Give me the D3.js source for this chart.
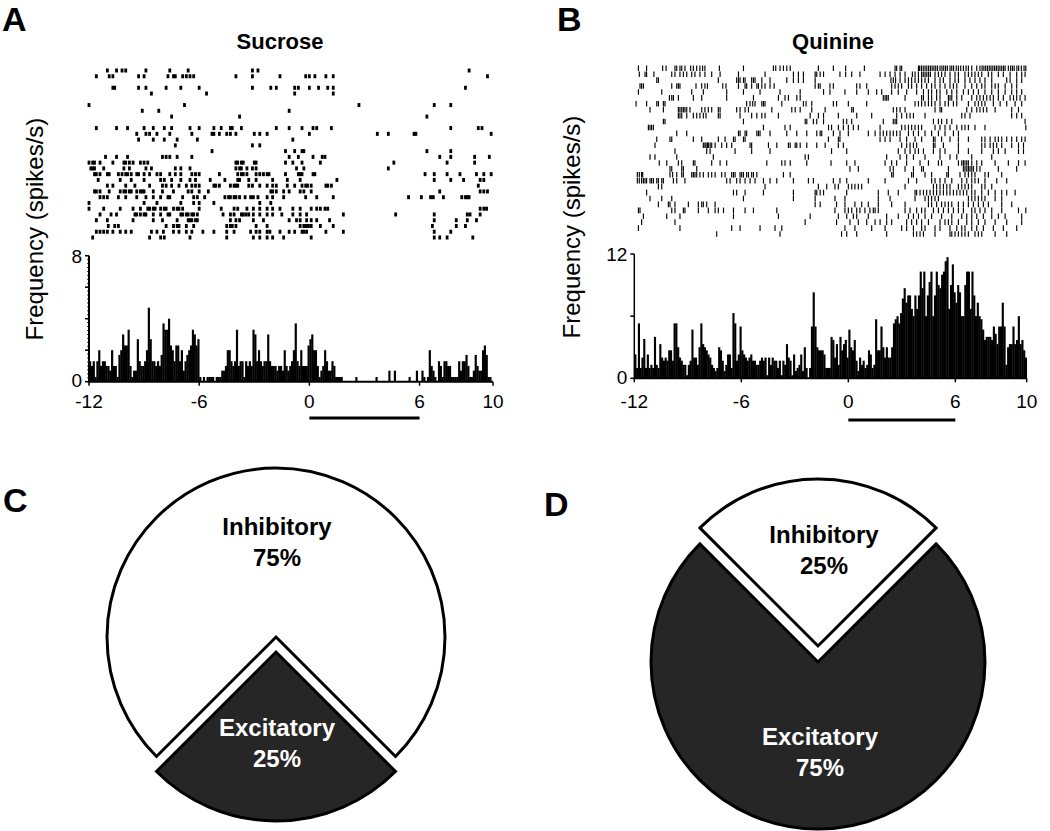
<!DOCTYPE html>
<html><head><meta charset="utf-8">
<script src="https://cdn.jsdelivr.net/npm/d3@7"></script>
<style>body{margin:0;background:#fff}svg{display:block}text{font-family:Arial,"Liberation Sans",Helvetica,sans-serif}</style>
</head><body><svg id="c" width="1050" height="831"></svg>
<script>
// ---------------- DATA ----------------
const histStart = -12, binWidth = 0.1;
const xTickValues = [-12, -6, 0, 6, 10];
const sucroseYTicks = [0, 2, 4, 6, 8];
const sucroseYLabels = [0, 8];
const quinineYTicks = [0, 6, 12];
const quinineYLabels = [0, 12];
const stimulusWindow = [0, 6];

const sucroseRate = [
 1.3,1.0,1.3,0.3,1.3,2.0,1.0,1.3,1.3,1.0,
 1.0,0.7,2.0,1.0,1.0,0.3,1.7,2.0,3.0,2.3,
 2.3,3.3,1.0,0.3,0.7,0.7,2.7,1.3,1.0,1.0,
 1.3,2.0,4.7,2.7,1.3,1.3,1.0,1.3,1.0,1.7,
 3.7,3.3,3.3,4.0,2.3,2.0,1.3,2.3,2.3,1.3,
 2.0,0.7,1.3,1.7,2.0,2.3,3.3,3.0,2.3,2.7,
 0.3,0,0.3,0,0.3,0.3,0.3,0.3,0,0.3,
 0.3,0.3,0.7,0.7,1.0,2.0,2.0,1.3,1.0,1.3,
 3.3,1.0,1.3,1.3,0.3,1.3,1.0,1.3,1.0,3.3,
 3.0,1.3,2.0,1.3,1.0,1.3,1.3,3.0,1.3,1.0,
 1.0,1.0,0.7,1.0,1.0,0.7,2.0,1.0,0.7,1.0,
 1.3,2.0,3.7,1.3,1.0,2.0,1.0,1.0,1.0,2.3,
 2.7,3.0,2.0,2.0,1.0,0.3,0.7,1.0,2.0,1.3,
 0.7,0.7,1.3,1.0,0.3,0.3,0.3,0.3,0,0,
 0,0,0,0,0,0.3,0,0,0,0,
 0,0,0,0,0,0,0.3,0,0,0,
 0,0,0,0.7,0,0,0.7,0,0,0,
 0,0,0,0,0.3,0,0,0,0.7,0,
 0,0.7,0.3,0,0.3,2.0,1.0,0.7,0.3,0,
 1.3,1.0,0.3,1.3,1.3,1.0,1.0,0.3,0.3,0.3,
 0.3,1.3,0.7,1.3,1.3,1.7,1.0,0.3,0.3,0.7,
 1.7,1.0,0.7,0.7,2.0,2.3,1.7,0.3,0.3,0
];

const quinineRate = [
 2.3,1.0,5.3,1.0,2.0,3.8,1.0,2.3,1.0,1.3,
 1.0,4.0,1.3,1.0,3.3,2.0,1.7,2.0,1.7,2.7,
 2.7,1.7,5.3,5.3,3.0,2.0,1.7,1.3,1.3,0.3,
 1.3,1.7,4.7,2.0,2.0,1.3,3.0,5.3,3.3,3.0,
 2.7,2.3,2.0,1.3,1.0,0.7,1.0,3.0,2.7,1.7,
 0.7,1.3,2.3,2.3,1.0,6.3,5.3,1.7,2.3,5.0,
 2.7,2.3,2.0,1.7,2.0,2.3,1.7,1.7,1.3,1.3,
 1.7,2.0,1.7,2.0,0.3,2.0,1.3,2.0,1.7,1.7,
 1.0,1.7,0.3,1.7,1.3,3.3,2.0,1.7,0.3,2.3,
 0.7,1.0,1.3,2.3,0.7,3.0,1.0,0,1.0,5.0,
 8.3,5.0,3.0,2.7,2.7,2.7,2.3,1.0,1.0,1.0,
 4.0,3.7,2.0,3.3,1.3,4.0,2.7,3.3,3.7,2.0,
 4.7,3.0,2.7,3.7,1.7,0.7,2.0,1.3,1.7,1.0,
 1.3,2.7,2.3,1.0,1.3,5.7,2.7,2.7,5.0,3.0,
 2.0,3.0,2.0,2.0,3.0,5.3,5.7,6.0,5.3,6.3,
 7.7,8.7,7.3,8.0,8.0,6.7,6.0,8.0,6.7,8.0,
 10.3,8.7,10.3,6.0,8.0,9.3,10.3,6.0,8.0,10.3,
 9.0,8.7,10.0,10.3,11.3,11.7,6.7,9.0,11.0,8.3,
 7.3,9.0,8.3,6.0,6.0,9.0,10.3,10.3,6.7,10.3,
 8.0,6.0,7.3,6.0,5.7,4.7,3.7,4.0,4.0,4.0,
 3.7,5.0,4.3,3.3,5.0,5.0,7.3,5.0,1.3,3.0,
 3.3,3.3,5.0,3.3,3.7,6.0,3.3,3.7,2.7,2.0
];

// spike times (s) per trial, relative to stimulus onset
const sucroseTrials = [
 [-11.0,-10.5,-10.2,-10.0,-8.9,-7.6,-6.6,-3.1,-2.8,8.7],
 [-11.6,-10.9,-10.7,-9.3,-9.0,-7.7,-7.4,-7.3,-6.9,-6.7,-6.5,-6.3,-4.0,-3.1,-1.6,-0.2,0.0,0.3,0.9,1.3,9.7],
 [],
 [-10.7,-10.6,-9.3,-8.9,-7.8,-7.0,-6.0,-3.1,-2.1,-1.8,-0.8,-0.6,0.0,0.5,1.0,1.3,8.5],
 [-8.6,-5.6,-0.8,1.3],
 [],
 [-12.0,-6.8,2.7,6.8,7.7],
 [-9.1,-8.2,-1.1],
 [-7.5,-3.8,6.4],
 [],
 [-11.6,-10.5,-9.9,-9.0,-8.5,-7.9,-7.5,-6.5,-6.0,-5.2,-4.8,-4.3,-4.2,-3.7,-1.8,-1.1,-0.4,0.2,0.4,1.2,7.7,9.2,9.4],
 [-9.4,-8.9,-8.7,-8.3,-7.6,-6.4,-5.3,-5.2,-4.9,-4.5,-4.3,-4.0,-3.0,-2.7,-2.3,0.0,3.7,4.3,5.7,5.8,9.9],
 [-9.3,-8.5,-7.9,-7.2,-6.1,-0.9],
 [-7.3,-3.1,-2.7],
 [-5.3,-1.3,-0.8,-0.4,-0.3,6.4,7.7],
 [-11.1,-10.5,-9.9,-8.0,-7.8,-7.6,-7.2,-6.4,-1.1,-0.6,0.2,0.7,0.85,7.1,7.7,9.0,9.8],
 [-12.0,-11.8,-11.7,-11.4,-10.7,-10.1,-10.0,-9.8,-9.6,-9.2,-9.0,-8.8,-4.0,-3.9,-3.7,-3.6,-3.0,-2.9,-1.3,-0.9,-0.4,0.6,4.6,7.5,9.0],
 [-11.9,-11.8,-11.7,-11.2,-10.1,-9.8,-8.9,-8.6,-7.3,-7.0,-6.5,-4.0,-3.8,-3.7,-3.4,-3.1,-2.9,-0.7,-0.3,4.3],
 [-11.7,-11.6,-11.4,-11.0,-10.9,-10.4,-10.2,-10.0,-9.9,-9.7,-9.4,-9.3,-9.0,-8.7,-8.3,-8.1,-7.6,-7.3,-7.0,-6.4,-6.2,-6.0,-4.9,-3.9,-3.7,-3.6,-3.4,-2.9,-2.7,-2.5,-2.3,-2.2,-1.3,-0.6,-0.5,-0.4,0.2,0.3,6.3,6.8,7.5,8.2,9.1,9.5,9.9],
 [-11.5,-10.3,-9.7,-9.0,-8.1,-7.9,-7.5,-7.0,-6.5,-6.2,-5.4,-4.6,-3.9,-3.8,-3.3,-2.9,-2.0,-1.2,-0.5,1.5,6.8,7.7,8.4,9.3,9.5],
 [-11.0,-10.7,-10.0,-9.5,-8.7,-8.0,-7.8,-7.5,-7.1,-6.7,-6.4,-6.2,-6.0,-5.2,-5.1,-4.9,-4.3,-4.1,-4.0,-3.9,-3.3,-3.1,-2.7,-2.3,-2.0,-1.8,-1.2,-0.8,-0.4,-0.2,-0.1,0.1,0.9,1.0,1.2,9.2],
 [-11.7,-11.6,-11.4,-10.9,-10.3,-10.1,-10.0,-9.8,-9.7,-9.4,-9.2,-9.1,-9.0,-8.5,-8.0,-7.4,-6.6,-6.4,-6.0,-5.5,-2.1,-2.0,-1.8,-1.4,-1.1,-0.5,-0.3,0.1,7.1,9.3,9.5,9.7],
 [-11.4,-11.2,-11.0,-10.4,-10.0,-9.4,-8.9,-8.5,-8.1,-7.7,-7.6,-6.9,-6.3,-6.1,-5.7,-4.6,-4.4,-4.3,-4.1,-4.0,-3.8,-3.5,-3.2,-3.05,-2.8,-2.3,-2.0,-1.4,-0.2,0.4,1.3,5.4,6.1,6.6,6.75,7.3,8.3,8.5,8.6,8.7],
 [-12.0,-9.0,-8.3,-7.0,-6.3,-6.0,-5.2,-2.7,-2.1],
 [-12.0,-11.2,-10.3,-9.6,-9.2,-8.8,-8.7,-8.5,-8.4,-8.1,-7.9,-7.8,-7.4,-7.2,-7.1,-6.9,-6.0,-4.8,-4.1,-3.9,-3.4,-3.05,-2.7,-2.3,-2.0,-1.6,-0.9,-0.5,0.1,0.4,0.6,0.85,1.0,9.3,9.5,9.65],
 [-11.4,-10.8,-10.5,-9.5,-9.4,-9.2,-9.0,-8.9,-8.5,-8.1,-7.7,-7.6,-7.0,-6.9,-6.7,-6.6,-6.4,-6.3,-6.1,-4.7,-4.3,-4.1,-3.7,-3.6,-3.45,-3.3,-3.05,-2.7,-2.3,-2.0,-1.5,-0.9,-0.5,-0.15,1.85,4.7,6.8,8.6,8.75,9.3],
 [-11.6,-11.0,-9.6,-8.5,-8.0,-7.2,-6.6,-6.5,-6.4,-6.2,-6.1,-4.3,-4.0,-3.8,-3.05,-2.5,-1.1,-0.7,-0.5,-0.15,0.1,0.4,1.1,6.8,8.0,8.6,9.1],
 [-10.95,-10.6,-10.4,-7.8,-7.4,-7.2,-7.1,-6.7,-6.3,-4.5,-4.3,-4.2,-4.0,-2.9,-2.3,-0.5,-0.3,-0.2,-0.05,0.1,0.6,1.3,6.7,8.0,8.5],
 [-11.6,-11.4,-11.2,-11.0,-10.7,-10.3,-10.0,-9.7,-8.6,-8.3,-7.95,-7.4,-7.1,-6.7,-6.4,-5.8,-5.2,-4.5,-4.1,-3.2,-2.9,-2.7,-2.3,-2.15,-1.6,-1.1,-0.8,-0.4,-0.3,-0.15,0.9,1.85,6.8,7.7],
 [-11.8,-8.7,-8.1,-7.9,-6.5,-4.5,-3.05,-2.7,-2.3,-2.0,-1.4,0.1,6.8,7.1,7.5,8.9]
];

const quinineTrials = [
 [-11.77,-11.31,-10.41,-10.22,-9.72,-9.62,-9.44,-9.34,-9.16,-8.84,-8.69,-8.5,-8.32,-8.17,-8.04,-7.23,-5.88,-4.2,-4.07,-3.83,-3.64,-3.45,-3.26,-1.68,-0.84,-0.15,0.9,2.62,2.71,2.9,2.99,3.93,4.0,4.1,4.2,4.3,4.4,4.5,4.6,4.7,4.8,4.9,5.0,5.14,5.25,5.35,5.45,5.55,5.7,5.8,5.9,6.05,6.17,6.3,6.45,6.6,6.73,6.92,7.2,7.38,7.5,7.6,7.7,7.8,7.9,8.0,8.1,8.2,8.3,8.4,8.5,8.6,8.7,8.79,8.97,9.1,9.2,9.3,9.45,9.55,9.7,9.85,9.95],
 [-11.72,-11.4,-11.31,-10.9,-9.9,-9.72,-9.44,-9.25,-9.06,-8.78,-8.6,-8.32,-8.04,-7.66,-7.19,-6.16,-4.67,-3.08,-2.8,-2.52,-1.86,-1.77,-1.58,-1.39,-0.47,-0.15,0.19,0.65,1.78,2.06,2.34,2.62,2.9,3.18,3.59,3.74,3.93,4.11,4.2,4.3,4.4,4.5,4.6,4.86,5.05,5.23,5.42,5.7,5.98,6.17,6.54,6.73,6.92,7.1,7.29,7.48,7.85,8.04,8.41,8.69,9.07,9.44,9.72,9.91],
 [-10.74,-10.65,-7.29,-6.26,-6.16,-6.07,-5.88,-5.79,-5.42,-5.32,-5.23,-4.85,-4.39,-3.45,-3.08,-2.8,-2.52,-1.86,2.39,2.52,2.65,2.9,3.18,3.37,3.55,3.74,3.93,4.11,4.3,4.49,4.86,5.14,5.33,5.7,5.98,6.17,6.54,6.82,7.1,7.38,7.66,8.04,8.88,9.07,9.44,9.72],
 [-11.68,-11.59,-11.49,-9.9,-9.62,-9.53,-9.44,-8.54,-8.22,-8.04,-7.9,-7.04,-6.86,-6.16,-5.79,-5.7,-5.42,-5.13,-5.04,-4.85,-4.67,-4.39,-4.16,-1.86,-1.68,-1.58,-1.03,-0.84,0.47,0.65,1.03,2.43,2.62,2.8,2.99,3.37,3.55,3.83,4.11,4.39,4.67,4.86,5.14,5.42,5.7,5.89,6.08,6.54,6.92,7.2,7.48,7.66,8.04,8.23,8.41,8.79,9.16,9.44],
 [-11.77,-10.46,-8.78,-8.13,-6.82,-5.88,-4.95,-3.83,-2.7,-1.39,-1.03,-0.19,0.47,1.12,1.59,1.87,2.43,2.8,3.27,3.83,4.21,4.49,4.67,4.95,5.14,5.52,5.8,6.08,6.45,6.73,7.01,7.29,7.66,8.04,8.41,8.79,9.16,9.44,9.72],
 [-10.03,-9.9,-9.81,-9.53,-8.69,-8.22,-6.82,-5.32,-3.92,-3.55,-3.36,-2.89,-2.7,1.96,2.06,2.15,2.24,3.18,4.11,4.21,4.49,4.67,4.95,5.14,5.61,5.7,5.8,6.08,6.36,6.92,7.2,7.38,7.57,7.76,7.95,8.13,8.41,8.69,9.07,9.26,9.44,9.63,9.91],
 [-11.9,-11.31,-10.74,-10.65,-10.37,-10.28,-5.7,-5.51,-5.36,-5.23,-4.85,-4.76,-4.67,-3.73,-2.52,-2.37,-2.05,-0.84,-0.66,0.0,1.03,3.74,3.93,4.11,4.3,4.49,4.67,4.86,5.14,5.42,5.61,5.89,6.08,6.73,7.1,7.29,7.48,7.66,8.13,8.51,8.88,9.35,9.72],
 [-11.12,-10.37,-9.53,-9.44,-9.34,-9.25,-9.16,-9.06,-8.88,-8.22,-8.04,-7.85,-7.66,-7.29,-7.19,-6.26,-6.07,-5.79,-5.6,-4.29,-3.17,-2.98,-2.7,-2.05,-1.3,0.19,0.28,2.52,2.71,2.9,3.18,4.86,5.14,5.23,6.64,6.92,7.2,7.38,7.57,7.76,8.23,9.16,9.54],
 [-9.53,-9.44,-9.34,-9.06,-8.69,-8.5,-8.32,-8.13,-7.98,-7.29,-7.19,-6.07,-5.42,-5.13,-4.85,-4.67,-3.92,-2.14,-1.68,-1.39,-0.56,0.47,1.31,2.71,2.99,3.27,3.46,3.65,4.3,6.36,6.54,6.82,9.16,9.44,9.72],
 [-10.37,-10.28,-5.88,-2.42,-2.33,-1.96,-1.77,-1.39,-0.28,-0.09,0.19,1.96,2.52,2.62,2.71,4.77,5.05,5.23,5.52,5.8,9.91],
 [-11.21,-11.12,-11.03,-10.93,-4.76,-3.55,-3.26,-1.11,-0.94,-0.56,-0.28,0.0,0.28,0.56,1.78,2.99,3.18,3.37,3.55,3.74,3.93,4.11,4.86,5.14,5.42,5.7,6.08,6.36,6.54,6.73,7.1,7.66,9.95],
 [-9.62,-9.06,-6.16,-6.07,-5.79,-5.7,-5.13,-5.04,-4.95,-4.39,-3.45,-2.89,-2.33,-1.77,-1.58,-1.49,-0.84,-0.47,0.0,1.12,1.5,1.78,1.96,2.15,2.34,2.52,2.71,2.9,3.37,3.65,3.93,4.3,4.67,5.05,5.42,5.89,6.17],
 [-10.74,-10.0,-9.9,-8.69,-8.22,-7.29,-6.91,-6.44,-6.35,-5.88,-5.79,-1.12,-0.56,-0.47,1.78,2.06,2.34,2.9,3.27,3.74,4.11,4.77,4.86,5.23,5.7,6.17,6.73,7.48,7.66,7.95,8.23,8.41,8.6,8.88,9.16,9.44,9.72,9.91],
 [-10.84,-8.13,-8.04,-7.98,-7.9,-7.85,-7.75,-7.66,-7.47,-7.1,-6.82,-6.54,-5.51,-5.42,-4.48,-4.01,-3.36,-3.26,-2.98,-2.89,-2.7,-2.33,-1.77,-1.3,-0.56,-0.28,2.99,3.27,3.46,3.65,3.83,4.77,4.86,5.33,6.17,7.48,7.66,7.95,8.13,8.32,8.6,9.16,9.54,9.82],
 [-9.72,-7.94,-7.75,-6.35,-5.42,-4.39,-0.94,-0.09,2.8,3.18,3.46,3.74,3.93,4.21,4.77,5.14,5.42,6.17,6.73,7.48,8.13,8.41,8.79,9.54,9.82],
 [-11.12,-10.84,-9.62,-7.57,-2.42,-2.24,2.15,2.9,3.27,3.65,4.3,5.14,5.7,6.08,6.92,8.04],
 [-10.6,-10.18,-9.53,-9.34,-8.69,-8.6,-7.66,-7.19,-6.82,-4.57,-3.73,-3.55,-3.26,-2.33,-0.97,-0.09,0.37,2.06,2.43,2.71,3.27,4.02,4.49,5.05,5.23,6.17,6.36,6.45,6.54,6.64,6.73,6.92,7.2,7.48,8.23,8.97,9.54,9.91],
 [-10.0,-9.9,-9.34,-9.25,-8.5,0.09,0.56,2.34,2.52,3.18,3.65,4.11,4.21,5.61,6.45,6.54,6.64,6.73,6.82,6.92,7.01,7.2,7.38,8.41,9.44],
 [-11.83,-11.72,-11.59,-11.53,-10.0,-9.85,-9.62,-9.34,-9.25,-8.78,-8.69,-8.6,-8.5,-8.32,-8.13,-7.85,-7.66,-7.47,-7.1,-6.91,-6.54,-6.44,-6.35,-6.07,-5.98,-5.88,-5.7,-5.6,-5.42,-5.32,-5.13,-3.64,-3.26,2.43,2.52,3.55,3.65,4.3,4.67,5.52,5.61,6.26,6.54,6.73,6.92,7.1,7.66,7.85,8.6],
 [-11.83,-11.72,-11.59,-11.49,-11.4,-11.31,-11.12,-11.03,-10.93,-10.74,-10.65,-10.46,-10.37,-9.81,-9.62,-9.16,-6.82,-6.63,-6.26,-6.07,-5.79,-5.51,-5.23,-4.76,-4.39,-4.01,-3.08,-2.24,-1.96,-0.84,-0.47,-0.09,1.12,2.06,3.37,3.83,4.67,4.86,5.14,5.42,5.8,6.36,6.64,6.92,7.1,7.29,7.66,8.32,8.88],
 [-10.65,-10.46,-4.67,-1.68,-1.21,-0.75,-0.56,0.0,0.19,0.37,0.56,0.75,3.18,4.77,4.95,5.14,5.33,5.52,5.7,6.17,6.36,6.54,6.73,6.92,7.48,7.66,8.04],
 [-11.31,-6.44,-6.26,-5.79,-4.76,-3.08,-1.86,-1.77,-1.58,-1.39,-0.09,1.68,2.24,2.8,3.74,3.83,4.02,4.21,4.39,4.58,4.77,4.95,5.14,5.33,5.52,5.7,5.89,6.08,6.26,6.45,6.64,6.92,7.1,7.48,7.85,8.23,8.6,8.88,9.35],
 [-11.12,-10.46,-9.9,-5.88,-3.08,-1.86,-0.75,-0.19,1.68,2.34,3.74,4.3,4.49,4.67,4.86,5.05,6.73,6.92,7.1,7.29,7.48,7.66,8.23,8.6],
 [-10.65,-10.09,-10.0,-9.72,-8.97,-8.41,-8.22,-8.13,-7.94,-7.47,-1.86,-1.58,-0.66,-0.19,0.37,0.75,1.12,1.68,2.43,3.18,4.49,4.67,4.95,5.23,5.42,5.61,5.8,6.17,6.45,6.73,7.01,7.29,7.57,7.85,8.6,9.16],
 [-11.77,-11.68,-9.9,-9.72,-9.25,-9.16,-8.41,-7.85,-7.47,-7.29,-7.0,-6.44,-5.79,-5.32,-4.01,-0.75,-0.19,0.0,0.19,0.47,0.65,0.93,1.21,1.4,1.5,1.68,3.18,3.46,3.83,4.11,4.3,4.77,5.05,5.33,5.61,5.89,6.17,6.45,6.92,7.1,7.38,7.66,8.04,8.6,9.54,9.95],
 [-11.49,-10.18,-9.44,-6.44,-3.92,-2.14,-0.56,-0.09,0.28,0.47,1.12,2.15,2.8,3.37,3.65,3.93,4.3,4.67,5.23,5.8,6.36,6.64,6.92,7.2,7.57,8.04,8.41,8.79,9.72],
 [-11.59,-9.72,-2.42,-0.66,0.09,0.56,1.03,1.5,1.78,2.15,2.43,3.27,3.55,3.83,4.11,4.49,5.14,5.42,5.61,5.8,6.17,6.64,6.92,7.29,7.66,8.23,8.88,9.72],
 [-11.77,-9.44,-6.54,-6.07,-4.95,-4.11,-3.73,-0.19,0.37,1.31,2.06,2.99,3.27,3.65,4.11,4.3,4.86,5.14,5.7,6.08,6.36,6.54,6.92,7.2,7.57,8.13,8.69,9.44],
 [-7.38,-3.83,-0.38,-0.09,0.47,2.15,3.65,3.83,4.02,4.21,4.86,5.7,5.8,5.98,6.17,6.36,6.54,6.73,7.1,7.29,7.48,8.23,8.88]
];

const pieCategories = ["Excitatory", "Inhibitory"];
const sucrosePercent = [25, 75];
const quininePercent = [75, 25];

// ---------------- DRAWING ----------------
const svg = d3.select("#c");
const DARK = "#262626";

function panelLetter(t, x, y) {
  svg.append("text").attr("x", x).attr("y", y).text(t)
    .attr("font-size", 34).attr("font-weight", "bold").attr("fill", "#000");
}
panelLetter("A", 2, 31);
panelLetter("B", 557, 31);
panelLetter("C", 3, 512);
panelLetter("D", 544, 516);

function psthPanel(cfg) {
  const x = d3.scaleLinear().domain([histStart, 10]).range(cfg.xRange);
  const y = d3.scaleLinear().domain([0, cfg.yMax]).range(cfg.yRange);
  const g = svg.append("g");
  g.append("text").attr("x", cfg.titleX).attr("y", 49).attr("text-anchor", "middle")
    .attr("font-size", 22).attr("font-weight", "bold").text(cfg.title);
  g.append("text").attr("transform", `translate(${cfg.labelX},${cfg.labelY}) rotate(-90)`)
    .attr("text-anchor", "middle").attr("font-size", 24).text("Frequency (spikes/s)");
  // raster
  const rowY = d3.scaleLinear().domain([0, cfg.trials.length - 1]).range(cfg.rasterRange);
  cfg.trials.forEach((tr, k) => {
    const spikes = tr.filter(t => t >= histStart && t <= 10);
    if (cfg.rasterStyle === "block") {
      g.selectAll(null).data(spikes).enter().append("rect")
        .attr("x", d => x(d) - 1.4).attr("y", rowY(k) - 2)
        .attr("width", 2.8).attr("height", 4).attr("fill", "#000");
    } else {
      g.selectAll(null).data(spikes).enter().append("line")
        .attr("x1", d => x(d)).attr("x2", d => x(d))
        .attr("y1", rowY(k) - 2.8).attr("y2", rowY(k) + 2.8)
        .attr("stroke", "#000").attr("stroke-width", 1.15);
    }
  });
  // bars
  const bw = x(histStart + binWidth) - x(histStart);
  g.selectAll(null).data(cfg.rate).enter().append("rect")
    .attr("x", (d, i) => x(histStart + i * binWidth))
    .attr("y", d => y(d))
    .attr("width", bw + 0.35)
    .attr("height", d => y(0) - y(d))
    .attr("fill", "#000");
  // x axis
  const x0 = x(histStart), x1 = x(10), yb = y(0);
  g.append("line").attr("x1", x0).attr("x2", x1).attr("y1", yb).attr("y2", yb)
    .attr("stroke", "#000").attr("stroke-width", 2);
  xTickValues.forEach(v => {
    g.append("line").attr("x1", x(v)).attr("x2", x(v)).attr("y1", yb).attr("y2", yb + 4)
      .attr("stroke", "#000").attr("stroke-width", 1.5);
    g.append("text").attr("x", x(v)).attr("y", cfg.xLabelY).attr("text-anchor", "middle")
      .attr("font-size", 19).text(v);
  });
  // y axis
  g.append("line").attr("x1", x0).attr("x2", x0).attr("y1", y(0) + 1).attr("y2", y(cfg.yMax))
    .attr("stroke", "#000").attr("stroke-width", cfg.yAxisWidth);
  if (cfg.minorStep) {
    d3.range(0, cfg.yMax + 1e-9, cfg.minorStep).forEach(v => {
      g.append("line").attr("x1", x0 - 2).attr("x2", x0).attr("y1", y(v)).attr("y2", y(v))
        .attr("stroke", "#000").attr("stroke-width", 0.8);
    });
  }
  cfg.yTicks.forEach(v => {
    g.append("line").attr("x1", x0 - 4).attr("x2", x0).attr("y1", y(v)).attr("y2", y(v))
      .attr("stroke", "#000").attr("stroke-width", 1.5);
  });
  cfg.yLabels.forEach(v => {
    g.append("text").attr("x", x0 - 7).attr("y", y(v)).attr("dy", v === 0 ? "0.3em" : "0.36em")
      .attr("text-anchor", "end").attr("font-size", 19).text(v);
  });
  // stimulus bar
  g.append("line").attr("x1", x(stimulusWindow[0])).attr("x2", x(stimulusWindow[1]))
    .attr("y1", cfg.stimY).attr("y2", cfg.stimY).attr("stroke", "#000").attr("stroke-width", 3);
}

psthPanel({
  title: "Sucrose", titleX: 280, labelX: 43, labelY: 229,
  xRange: [89, 493], yMax: 8, yRange: [381.7, 255.7],
  rate: sucroseRate, trials: sucroseTrials, rasterRange: [70.5, 237.5], rasterStyle: "block",
  yTicks: sucroseYTicks, yLabels: sucroseYLabels, yAxisWidth: 2, minorStep: 0.25,
  xLabelY: 408, stimY: 418
});
psthPanel({
  title: "Quinine", titleX: 833, labelX: 580, labelY: 227,
  xRange: [634.3, 1026.7], yMax: 12, yRange: [378.3, 254],
  rate: quinineRate, trials: quinineTrials, rasterRange: [68.3, 234], rasterStyle: "tick",
  yTicks: quinineYTicks, yLabels: quinineYLabels, yAxisWidth: 1.5, minorStep: 0,
  xLabelY: 408, stimY: 420
});

// ---------- pies ----------
function piePanel(cfg) {
  const data = pieCategories.map((c, i) => ({ name: c, value: cfg.values[i] }));
  const pie = d3.pie().value(d => d.value).sort(null)
    .startAngle(cfg.start).endAngle(cfg.start + 2 * Math.PI);
  const arc = d3.arc().innerRadius(0).outerRadius(cfg.r);
  const g = svg.append("g").attr("transform", `translate(${cfg.cx},${cfg.cy})`);
  pie(data).forEach(s => {
    const mid = (s.startAngle + s.endAngle) / 2;
    const off = cfg.explode[s.data.name] || 0;
    g.append("path").attr("d", arc(s))
      .attr("transform", `translate(${Math.sin(mid) * off},${-Math.cos(mid) * off})`)
      .attr("fill", s.data.name === "Excitatory" ? DARK : "#fff")
      .attr("stroke", "#000").attr("stroke-width", 3).attr("stroke-linejoin", "miter");
  });
  cfg.labels.forEach(l => {
    const i = pieCategories.indexOf(l.name);
    const col = l.name === "Excitatory" ? "#fff" : "#000";
    g.append("text").attr("x", l.dx).attr("y", l.dy).attr("text-anchor", "middle")
      .attr("font-size", 24).attr("font-weight", "bold").attr("fill", col).text(l.name);
    g.append("text").attr("x", l.dx).attr("y", l.dy + 31).attr("text-anchor", "middle")
      .attr("font-size", 24).attr("font-weight", "bold").attr("fill", col).text(cfg.values[i] + "%");
  });
}

piePanel({
  cx: 276, cy: 637, r: 169, values: sucrosePercent, start: 0.75 * Math.PI,
  explode: { Excitatory: 15 },
  labels: [{ name: "Inhibitory", dx: 1, dy: -102 }, { name: "Excitatory", dx: 1, dy: 99 }]
});
piePanel({
  cx: 818, cy: 662, r: 167, values: quininePercent, start: 0.25 * Math.PI,
  explode: { Inhibitory: 16 },
  labels: [{ name: "Inhibitory", dx: 6, dy: -119 }, { name: "Excitatory", dx: 2, dy: 83 }]
});
</script></body></html>
